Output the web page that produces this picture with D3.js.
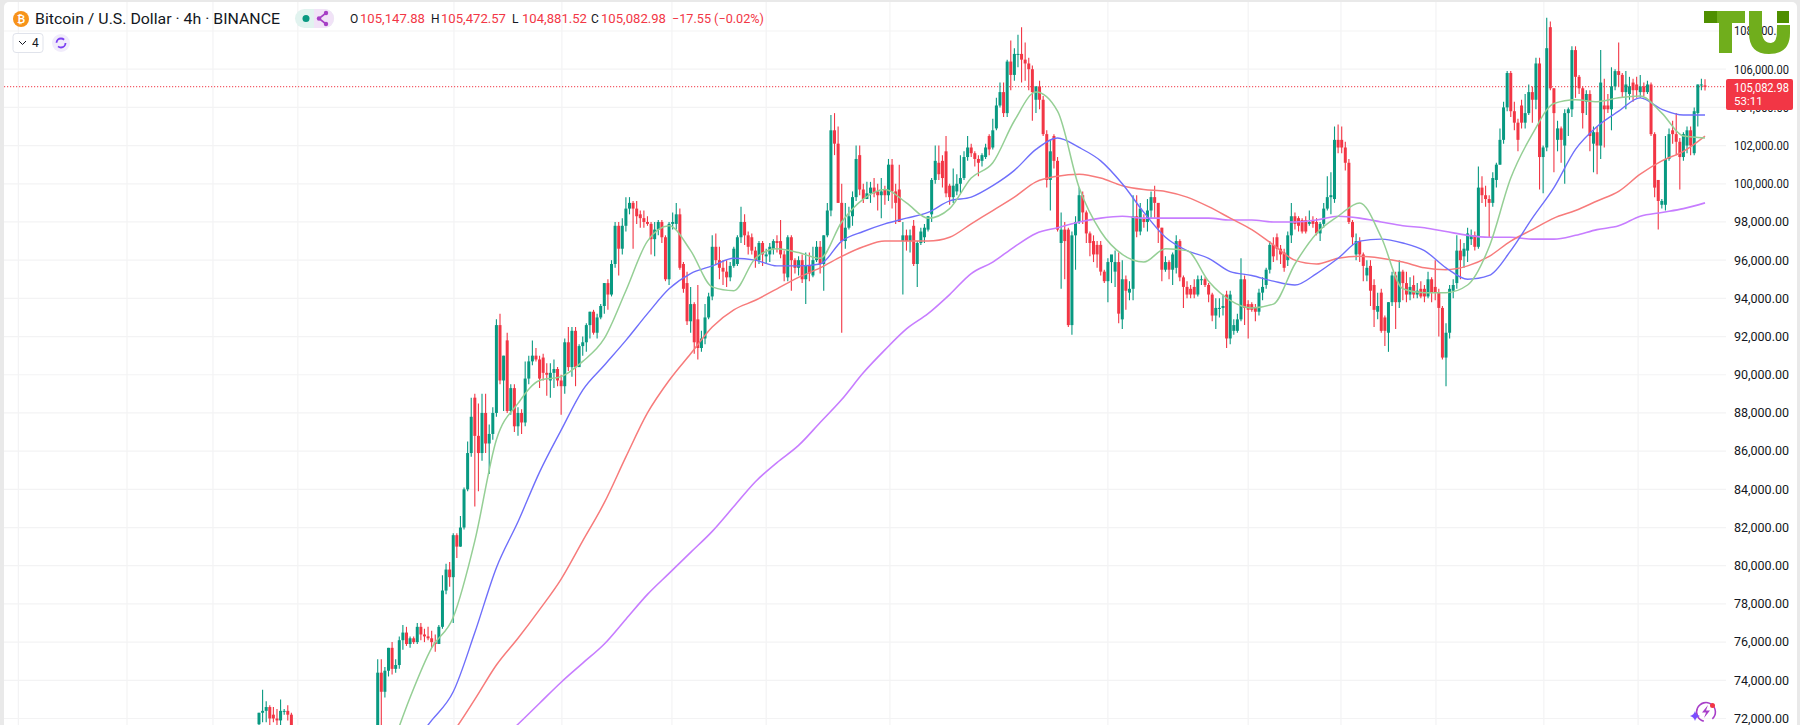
<!DOCTYPE html>
<html>
<head>
<meta charset="utf-8">
<script src="https://cdn.jsdelivr.net/npm/d3@7/dist/d3.min.js"></script>
<style>
  html, body { margin: 0; padding: 0; background: #e9e9e9; }
  svg { display: block; font-family: Roboto, sans-serif; }
</style>
</head>
<body>
<script>
// prices are in thousands of USD
// candles 10..32 sit below the 72,000 edge so they are not in the lists
const hiddenFrom = 10;
const hiddenCount = 23;
const lastCandle = 402;

const candleOpen = [
71.7,72.3,72.4,72.6,72.2,72.0,71.9,72.4,72.4,72.2,
71.0,74.4,73.4,74.5,75.7,74.6,74.8,76.1,76.5,75.9,
76.2,76.0,76.8,76.4,76.3,76.2,76.0,75.9,76.8,78.7,
79.8,79.4,81.6,81.0,82.0,84.0,85.9,88.8,86.8,85.9,
88.0,86.4,86.9,88.0,92.6,89.7,91.8,88.1,89.3,87.3,
88.0,87.5,89.8,90.7,91.0,90.8,90.9,90.1,89.7,90.1,
90.3,89.7,89.4,91.7,90.4,92.3,90.4,91.5,91.7,92.6,
93.3,92.2,93.0,93.6,94.8,94.2,95.8,97.8,96.6,97.8,
98.7,99.0,98.7,98.4,98.2,98.0,97.9,97.1,97.6,98.0,
97.2,95.0,97.9,97.9,98.4,95.8,94.8,92.8,93.7,92.9,
91.4,91.9,93.0,94.1,96.7,96.0,95.6,95.4,95.1,95.7,
95.8,97.2,98.0,97.3,97.2,96.5,96.0,96.9,96.2,96.3,
96.6,97.0,97.0,96.3,95.1,97.2,96.0,95.6,96.0,95.0,
95.7,95.2,96.0,96.7,95.8,97.3,98.6,102.8,102.1,99.0,
97.0,97.7,98.3,99.3,101.5,99.7,99.2,99.5,99.8,99.6,
99.4,99.7,99.4,101.0,99.6,99.7,97.0,97.3,97.0,97.8,
95.8,96.9,97.2,97.6,98.4,100.2,101.1,101.2,101.7,99.9,
99.3,99.6,100.0,100.3,101.4,101.9,101.6,101.3,101.2,101.4,
102.5,101.9,102.9,104.1,104.8,103.7,106.4,105.7,106.8,106.8,
106.5,106.3,106.0,104.4,105.1,104.4,102.6,100.2,102.5,101.2,
96.9,97.6,97.6,92.6,97.3,98.0,99.4,98.5,97.4,97.0,
96.8,96.8,95.4,94.9,95.9,95.4,95.9,92.9,95.0,94.3,
94.5,98.3,97.5,98.2,98.0,98.6,99.3,99.0,97.7,95.5,
95.9,95.5,95.6,97.0,95.1,94.6,94.5,94.6,94.2,95.0,
95.0,94.7,94.2,93.1,93.5,93.5,94.2,91.9,92.3,92.3,
92.9,95.0,93.7,93.7,93.5,93.3,94.3,94.7,95.5,96.8,
97.2,96.6,96.4,96.0,97.3,98.3,98.2,98.1,98.1,97.9,
98.1,98.0,97.4,97.9,98.7,99.3,99.2,102.3,102.3,101.9,
101.1,98.0,96.3,97.0,96.3,95.2,95.7,94.7,93.3,94.3,
93.0,92.2,93.8,95.2,93.8,95.4,94.8,94.2,94.7,94.2,
94.5,94.5,94.1,95.0,94.6,94.3,93.5,90.9,92.2,94.4,
94.8,96.5,96.2,96.5,97.1,97.3,96.7,99.8,99.4,99.2,
99.0,100.2,101.0,102.3,104.0,105.8,103.8,103.2,104.1,103.2,
103.7,104.8,104.4,106.3,101.4,101.9,108.2,105.0,102.3,102.9,
102.0,103.7,103.9,107.0,105.6,105.0,104.3,104.7,102.1,102.7,
102.0,104.1,104.1,103.9,105.1,105.9,105.7,104.8,104.7,105.3,
105.2,104.8,105.1,104.8,105.2,102.6,100.2,98.9,98.9,101.3,
102.8,102.6,102.2,101.4,102.0,102.8,101.6,103.7,105.2,105.15
];

const candleHigh = [
72.3,73.5,72.9,72.7,72.6,72.5,73.0,72.5,72.7,72.3,
75.1,75.1,74.7,75.7,76.0,75.1,76.3,76.9,76.8,76.3,
76.3,77.0,77.0,76.7,76.8,76.6,76.4,76.9,79.5,80.1,
80.2,81.7,81.7,82.6,84.1,86.5,88.8,89.0,88.5,89.0,
89.0,87.4,88.3,92.9,93.2,91.0,92.2,89.5,89.5,88.3,
88.2,90.7,91.0,91.8,91.4,91.0,91.1,90.6,90.6,90.8,
90.4,90.0,91.9,92.5,92.5,92.5,91.6,92.0,92.7,93.3,
93.4,93.2,93.7,94.8,95.0,96.0,98.0,98.0,98.2,99.3,
99.3,99.1,99.1,98.6,98.6,98.3,98.0,98.0,98.1,98.1,
97.3,98.0,98.5,99.0,98.7,95.9,95.4,94.6,93.8,94.7,
92.3,93.7,94.3,97.3,97.4,96.7,96.0,96.0,95.9,96.7,
97.3,98.8,98.4,97.5,97.4,96.7,97.0,97.0,96.6,96.9,
97.1,97.3,98.1,96.5,97.3,97.3,96.1,96.2,96.3,96.4,
96.4,96.7,97.0,97.0,97.3,99.0,103.6,103.7,103.0,100.0,
99.0,98.8,99.6,102.0,102.0,100.0,100.1,100.1,100.3,100.0,
100.3,99.9,101.3,101.3,100.0,101.0,98.0,97.6,97.6,98.1,
97.0,97.7,97.9,98.3,100.3,102.0,102.0,101.5,102.5,100.0,
100.8,100.5,101.5,101.7,102.5,102.1,101.7,101.5,101.6,102.1,
102.6,103.4,104.5,105.3,105.3,106.5,107.5,107.1,107.8,108.2,
107.4,106.6,106.2,105.1,105.4,104.6,102.8,102.3,102.6,101.4,
98.5,98.0,97.7,97.5,98.3,99.8,99.6,98.6,97.5,97.3,
97.0,97.0,95.5,96.1,96.2,96.5,96.4,96.0,95.2,94.9,
99.4,99.4,99.0,98.4,99.2,99.6,99.9,99.0,97.7,96.2,
96.0,96.4,97.3,97.1,95.2,94.9,94.7,95.0,95.2,95.2,
95.1,94.8,94.3,94.0,94.0,94.2,94.4,94.4,92.9,93.2,
96.1,95.2,93.9,93.8,93.7,94.5,95.1,95.6,97.0,97.2,
97.4,96.8,96.6,97.5,99.0,98.5,98.3,98.2,98.3,98.6,
98.3,98.2,98.0,99.0,100.4,100.6,103.0,103.1,103.0,102.2,
101.3,98.1,97.4,97.2,96.4,96.0,96.0,95.0,94.3,94.5,
93.1,93.8,95.4,95.4,96.0,95.5,95.4,95.1,95.2,94.8,
94.9,94.7,95.4,95.1,96.0,94.5,93.6,92.7,94.7,95.0,
97.3,97.1,96.9,97.7,97.6,97.5,100.9,100.4,99.9,99.4,
100.6,101.1,102.9,104.3,105.9,105.9,104.3,103.4,104.4,104.7,
105.2,105.1,106.6,106.6,102.0,108.7,108.5,105.0,103.3,103.0,
103.9,104.0,107.2,107.2,105.7,105.1,104.9,104.9,103.0,103.0,
107.0,105.5,104.7,106.1,106.0,107.4,105.8,105.9,105.6,105.5,
105.6,105.7,105.3,105.4,105.3,102.7,100.2,99.2,102.5,102.9,
103.3,103.7,102.4,102.7,103.0,103.0,104.0,105.2,105.5,105.47
];

const candleLow = [
71.5,71.8,71.8,71.6,71.8,71.6,71.6,72.2,71.9,71.2,
70.9,71.5,73.1,74.2,74.3,74.4,74.6,75.6,75.8,75.7,
75.9,75.9,76.1,76.0,76.1,75.7,75.5,75.9,76.7,78.5,
78.9,77.0,80.4,81.0,81.9,83.9,85.7,83.1,83.9,85.5,
85.9,84.8,86.6,87.8,89.5,88.1,88.0,87.9,87.0,86.8,
86.9,87.3,89.5,90.5,90.7,89.3,89.7,88.9,88.8,89.3,
89.4,87.9,89.0,90.2,89.9,89.4,90.4,91.0,91.2,91.9,
92.1,91.9,92.9,93.2,93.4,94.1,95.6,95.2,96.3,97.5,
98.4,96.6,97.9,97.7,97.7,97.8,96.3,96.2,97.3,96.9,
94.9,94.7,97.6,97.6,95.5,94.3,92.6,92.2,91.1,90.8,
91.2,91.6,92.9,93.9,95.8,95.0,94.7,94.6,94.9,95.6,
95.7,96.9,96.8,96.3,96.3,95.6,95.8,95.7,95.8,95.9,
96.3,96.4,96.1,94.9,94.9,94.4,95.3,95.2,94.8,93.7,
94.9,95.1,95.9,95.3,94.4,97.2,98.3,101.5,99.0,92.2,
96.6,97.6,97.8,99.1,99.4,99.0,99.2,99.0,99.3,98.6,
98.2,98.9,99.1,98.7,97.9,98.0,94.2,96.5,96.4,95.7,
94.6,96.8,96.9,97.5,98.0,100.0,100.2,99.8,99.3,98.9,
99.0,99.4,99.5,100.2,101.2,101.4,100.9,100.4,100.9,101.3,
101.5,101.8,102.8,104.0,103.5,103.5,104.9,105.4,106.1,105.3,
105.4,104.9,103.3,103.7,103.9,102.5,99.8,98.6,100.8,97.5,
94.5,95.0,92.5,92.1,95.5,97.9,97.9,96.9,96.2,95.9,
95.6,95.2,94.8,93.8,94.8,94.6,92.7,92.4,93.4,93.9,
93.9,97.2,97.3,97.7,97.5,98.2,98.2,96.9,94.9,95.4,
95.0,94.7,95.3,94.9,93.5,94.0,94.0,94.0,94.1,94.7,
94.6,93.8,92.8,92.4,93.0,93.1,91.4,91.6,92.1,92.2,
92.8,92.6,91.9,93.3,92.8,93.1,93.9,94.5,95.3,95.9,
96.0,95.8,95.4,95.7,96.9,97.6,97.5,97.4,97.4,97.8,
97.7,97.3,97.0,97.7,98.6,98.4,99.0,101.6,101.6,100.7,
97.9,96.8,96.0,95.9,94.9,94.9,93.6,92.5,92.9,92.2,
91.5,91.2,93.6,92.4,93.5,93.9,93.8,93.9,94.0,94.0,
94.0,93.8,94.0,93.8,93.9,92.0,90.8,89.4,91.9,94.0,
94.5,95.0,95.6,95.9,96.8,96.5,96.6,99.0,98.8,97.2,
98.8,99.8,101.0,102.1,103.8,103.5,102.8,101.7,102.9,102.9,
103.6,103.2,103.9,99.7,99.5,101.7,104.9,100.6,101.7,101.1,
100.0,102.5,103.5,104.5,104.7,102.9,103.6,101.7,100.6,100.5,
101.3,101.9,103.7,102.8,104.9,105.1,104.5,103.9,104.4,104.3,
104.5,104.5,104.6,104.7,102.5,99.3,97.6,98.7,98.6,101.2,
102.1,101.5,99.7,101.2,101.6,101.5,101.5,103.0,104.9,104.88
];

const candleClose = [
72.3,72.4,72.6,72.0,72.0,71.9,72.4,72.4,72.2,71.6,
74.4,73.4,74.5,75.7,74.6,74.8,76.1,76.5,75.9,76.2,
76.0,76.8,76.4,76.3,76.2,76.0,75.9,76.8,78.7,79.8,
79.4,81.6,81.0,82.0,84.0,85.9,87.8,86.8,85.9,88.0,
86.4,86.9,88.0,92.6,89.7,91.0,88.1,89.3,87.3,88.0,
87.5,89.8,90.7,91.0,90.8,89.8,90.1,90.0,90.1,90.3,
89.7,89.4,91.7,90.4,92.3,90.4,91.5,91.7,92.6,93.3,
92.2,93.0,93.6,94.8,94.2,95.8,97.8,96.6,97.8,98.7,
99.0,98.7,98.3,98.2,98.0,97.9,97.1,97.6,98.0,97.2,
95.0,97.9,98.0,98.4,95.6,94.5,92.8,93.7,91.7,91.4,
91.9,93.0,94.1,96.7,96.0,95.6,95.4,95.1,95.7,96.6,
97.2,98.0,97.3,96.7,96.5,96.0,96.9,96.3,96.3,96.7,
97.0,96.9,96.3,95.3,97.2,96.0,95.6,96.0,95.0,95.7,
95.3,96.0,96.7,95.8,97.3,98.6,102.8,102.1,99.0,97.0,
97.7,98.3,99.3,101.3,99.7,99.2,99.5,99.8,99.5,99.4,
99.6,99.4,101.0,99.6,99.0,98.0,97.3,97.0,97.3,95.8,
96.9,97.5,97.7,98.3,100.2,101.2,100.5,100.3,99.5,99.3,
99.9,100.0,100.3,101.4,101.9,101.6,101.3,101.1,101.5,101.9,
101.8,102.8,104.1,104.8,103.7,106.4,105.7,106.8,106.8,106.5,
106.3,106.0,104.8,105.1,104.4,102.6,100.2,101.7,101.2,97.6,
97.6,97.0,92.6,97.3,98.0,99.4,98.5,97.4,96.9,96.3,
96.3,95.4,94.9,95.9,96.3,95.9,93.2,95.0,94.4,94.5,
98.3,97.5,98.7,98.0,98.6,99.3,99.0,97.7,95.5,95.9,
95.5,96.3,97.0,95.1,94.6,94.2,94.2,94.2,95.0,95.0,
94.7,94.2,93.1,93.5,93.5,93.6,91.9,94.2,92.6,92.9,
95.0,93.5,93.4,93.4,93.3,94.3,94.6,95.5,96.8,96.2,
96.6,96.3,95.6,97.3,98.3,97.9,97.8,97.5,97.5,98.0,
97.9,97.4,97.9,98.7,99.3,99.4,102.3,101.9,101.9,101.1,
98.0,97.2,97.0,96.3,95.7,95.6,94.4,93.4,93.6,92.3,
92.3,93.8,95.2,93.8,95.4,94.8,94.2,94.6,94.2,94.4,
94.1,94.1,95.0,94.3,94.3,93.5,90.9,92.2,94.5,94.7,
96.5,96.0,96.6,97.4,97.3,96.7,99.8,99.4,99.2,99.0,
100.3,101.0,102.3,104.0,105.8,103.8,103.2,102.3,103.2,103.7,
104.8,104.4,106.3,101.4,101.9,107.1,105.0,103.7,102.9,102.3,
103.7,103.9,107.0,105.6,105.0,103.7,104.7,102.5,102.7,102.0,
105.3,103.9,103.9,105.1,105.9,105.7,104.8,105.2,105.1,104.9,
104.9,105.1,104.8,105.2,102.6,99.8,99.1,99.1,101.3,102.6,
102.6,102.2,101.4,102.6,102.8,102.0,103.8,105.2,105.2,105.08
];

// moving averages, one reading every 6 candles; each list starts at its own sample
const maStep = 6;
const greenStart = 6;
const greenMA = [70.0,73.1,75.7,77.3,81.3,86.6,88.5,89.7,89.9,90.7,91.9,94.4,97.0,97.8,96.5,94.6,94.4,96.1,96.6,96.4,96.1,98.0,99.2,99.7,99.0,98.2,98.7,100.3,101.1,103.3,104.8,103.8,99.8,97.5,96.3,95.9,96.6,96.5,94.9,93.9,93.5,93.7,95.8,97.4,98.3,99.0,97.2,94.5,94.3,94.3,94.7,96.7,100.3,102.6,104.2,104.4,104.3,104.5,104.6,103.7,102.5,102.4];
const blueStart = 7;
const blueMA = [70.5,71.9,73.4,76.5,79.9,82.3,84.9,87.1,89.2,90.5,91.8,93.2,94.5,95.3,95.7,96.1,96.0,95.7,95.7,95.8,97.0,97.5,97.9,98.2,98.5,99.1,99.3,99.9,100.7,101.8,102.4,101.9,101.2,100.0,98.5,97.2,96.5,96.1,95.4,95.2,94.9,94.7,95.3,96.1,97.0,97.1,96.9,96.5,95.6,95.0,95.2,96.5,98.2,99.8,101.8,103.0,103.8,104.5,103.9,103.6,103.6];
const redStart = 8;
const redMA = [70.0,71.3,73.0,74.8,76.2,77.7,79.3,81.3,83.3,85.7,88.0,89.7,91.1,92.5,93.4,93.9,94.5,95.1,95.6,96.2,96.7,97.0,97.0,97.0,97.2,97.9,98.6,99.3,100.1,100.4,100.5,100.3,99.9,99.7,99.6,99.3,98.8,98.2,97.6,96.8,96.0,95.8,96.1,96.2,96.1,95.9,95.6,95.5,95.7,96.2,97.0,97.6,98.2,98.6,99.1,99.6,100.5,101.2,101.7,102.5];
const purpleStart = 10;
const purpleMA = [69.8,70.7,71.7,72.8,73.9,74.9,75.9,77.2,78.5,79.6,80.7,81.8,83.1,84.4,85.4,86.3,87.5,88.7,90.1,91.3,92.4,93.2,94.2,95.3,95.9,96.7,97.4,97.7,98.0,98.2,98.3,98.2,98.2,98.2,98.2,98.1,98.1,98.0,98.0,98.1,98.3,98.2,98.0,97.8,97.7,97.5,97.3,97.2,97.2,97.1,97.1,97.3,97.6,97.8,98.3,98.5,98.7,99.0];

const priceTicks = [72,74,76,78,80,82,84,86,88,90,92,94,96,98,100,102,104,106,108];
// time gridlines, in candle positions
const timeGrid = [-66.9,-36.7,-12.8,10.8,54.2,84.2,114.8,141,175.4,236,275,300.8,327.2,357.2,383.4];

const legendTitle = 'Bitcoin / U.S. Dollar · 4h · BINANCE';
const legendOHLC = [['O','105,147.88'],['H','105,472.57'],['L','104,881.52'],['C','105,082.98']];
const legendChange = '−17.55 (−0.02%)';
const lastPrice = 105.08298;
const lastPriceLabel = '105,082.98';
const countdown = '53:11';

const width = 1800, height = 725;
const plotLeft = 4, plotRight = 1726;
const upColor = '#089981', downColor = '#f23645';
const textColor = '#131722';

if (candleOpen.length !== candleHigh.length || candleOpen.length !== candleLow.length || candleOpen.length !== candleClose.length)
    throw new Error('candle lists differ');

const x = d3.scaleLinear().domain([0, lastCandle]).range([259, 1705]);
const y = d3.scaleLinear().domain([72, 108]).range([718.5, 31]);

const svg = d3.select('body').append('svg').attr('width', width).attr('height', height);

svg.append('rect').attr('x', 4).attr('y', 2).attr('width', 1793).attr('height', 730).attr('rx', 5).attr('fill', '#fff');
svg.append('clipPath').attr('id', 'plot').append('rect')
    .attr('x', plotLeft).attr('y', 2).attr('width', plotRight - plotLeft).attr('height', 723);

// grid
svg.append('g').selectAll('line').data(timeGrid).join('line')
    .attr('x1', d => x(d)).attr('x2', d => x(d)).attr('y1', 2).attr('y2', height)
    .attr('stroke', '#f3f3f4').attr('stroke-width', 1.2);
svg.append('g').selectAll('line').data(priceTicks).join('line')
    .attr('x1', plotLeft).attr('x2', plotRight).attr('y1', d => y(d)).attr('y2', d => y(d))
    .attr('stroke', '#f3f3f4').attr('stroke-width', 1.2);

// last price line
svg.append('line')
    .attr('x1', plotLeft).attr('x2', plotRight).attr('y1', y(lastPrice)).attr('y2', y(lastPrice))
    .attr('stroke', downColor).attr('stroke-width', 1).attr('stroke-dasharray', '1.2 1.8');

const candles = candleOpen.map((o, i) => ({
    pos: i < hiddenFrom ? i : i + hiddenCount,
    o, h: candleHigh[i], l: candleLow[i], c: candleClose[i]
}));
const colorOf = d => d.c >= d.o ? upColor : downColor;

const plot = svg.append('g').attr('clip-path', 'url(#plot)');
plot.append('g').selectAll('line').data(candles).join('line')
    .attr('x1', d => x(d.pos)).attr('x2', d => x(d.pos))
    .attr('y1', d => y(d.h)).attr('y2', d => y(d.l))
    .attr('stroke', colorOf).attr('stroke-width', 1.1);
plot.append('g').selectAll('rect').data(candles).join('rect')
    .attr('x', d => x(d.pos) - 1.5).attr('width', 3)
    .attr('y', d => y(Math.max(d.o, d.c)))
    .attr('height', d => Math.max(1, Math.abs(y(d.o) - y(d.c))))
    .attr('fill', colorOf);

const maLine = start => d3.line()
    .x((d, i) => x((start + i) * maStep))
    .y(d => y(d))
    .curve(d3.curveMonotoneX);

plot.append('path').attr('d', maLine(purpleStart)(purpleMA)).attr('fill', 'none').attr('stroke', '#c77dff').attr('stroke-width', 1.6);
plot.append('path').attr('d', maLine(redStart)(redMA)).attr('fill', 'none').attr('stroke', '#f77b7b').attr('stroke-width', 1.5);
plot.append('path').attr('d', maLine(blueStart)(blueMA)).attr('fill', 'none').attr('stroke', '#6f6ffb').attr('stroke-width', 1.4);
plot.append('path').attr('d', maLine(greenStart)(greenMA)).attr('fill', 'none').attr('stroke', '#95cf95').attr('stroke-width', 1.5);

// price axis
const axis = svg.append('g').attr('transform', 'translate(1789,0)')
    .call(d3.axisRight(y).tickValues(priceTicks).tickSize(0).tickPadding(0)
        .tickFormat(d => d3.format(',.2f')(d * 1000)));
axis.select('.domain').remove();
axis.selectAll('text')
    .attr('text-anchor', 'end')
    .attr('textLength', 55).attr('lengthAdjust', 'spacingAndGlyphs')
    .attr('font-family', 'Roboto, sans-serif').attr('font-size', 12).attr('fill', textColor);

// last price tag
svg.append('rect').attr('x', 1726).attr('y', 79).attr('width', 67).attr('height', 31).attr('rx', 2).attr('fill', downColor);
svg.append('text').attr('x', 1734).attr('y', 91.5).attr('fill', '#fff').attr('font-size', 12)
    .attr('textLength', 55).attr('lengthAdjust', 'spacingAndGlyphs').text(lastPriceLabel);
svg.append('text').attr('x', 1734).attr('y', 105).attr('fill', '#fff').attr('font-size', 11.5).text(countdown);

// legend
const legend = svg.append('g');
legend.append('circle').attr('cx', 21).attr('cy', 19).attr('r', 8).attr('fill', '#f7931a');
legend.append('text').attr('x', 21).attr('y', 22.5).attr('text-anchor', 'middle').attr('fill', '#fff')
    .attr('font-size', 10).attr('font-weight', 700).text('₿');
legend.append('text').attr('x', 35).attr('y', 24).attr('font-size', 14).attr('fill', textColor)
    .attr('textLength', 245).attr('lengthAdjust', 'spacingAndGlyphs').text(legendTitle);

legend.append('rect').attr('x', 295).attr('y', 9).attr('width', 39).attr('height', 19).attr('rx', 9.5).attr('fill', '#e1f3ef');
legend.append('path').attr('d', 'M314,9 h10.5 a9.5,9.5 0 0 1 0,19 h-10.5 z').attr('fill', '#f1e2f7');
legend.append('circle').attr('cx', 306).attr('cy', 18.5).attr('r', 3.5).attr('fill', upColor);
legend.append('path').attr('d', 'M326,13 L319,18.5 L326,24').attr('fill', 'none').attr('stroke', '#a63ec5').attr('stroke-width', 1.6);
legend.selectAll('.node').data([[326,13],[319,18.5],[326,24]]).join('circle').attr('class', 'node')
    .attr('cx', d => d[0]).attr('cy', d => d[1]).attr('r', 2.2).attr('fill', '#a63ec5');

const ohlcX = [350, 431, 512, 591];
legendOHLC.forEach((d, i) => {
    legend.append('text').attr('x', ohlcX[i]).attr('y', 23).attr('font-size', 12).attr('fill', textColor).text(d[0]);
    legend.append('text').attr('x', ohlcX[i] + 10).attr('y', 23).attr('font-size', 12).attr('fill', downColor)
        .attr('textLength', 65).attr('lengthAdjust', 'spacingAndGlyphs').text(d[1]);
});
legend.append('text').attr('x', 672).attr('y', 23).attr('font-size', 12).attr('fill', downColor)
    .attr('textLength', 92).attr('lengthAdjust', 'spacingAndGlyphs').text(legendChange);

// collapsed indicators button
legend.append('rect').attr('x', 13).attr('y', 33.5).attr('width', 30).attr('height', 19).attr('rx', 3)
    .attr('fill', '#fff').attr('stroke', '#e0e3eb');
legend.append('path').attr('d', 'M19,41 l3.5,3.5 l3.5,-3.5').attr('fill', 'none').attr('stroke', textColor).attr('stroke-width', 1);
legend.append('text').attr('x', 32).attr('y', 47).attr('font-size', 12).attr('fill', textColor).text('4');
legend.append('circle').attr('cx', 61).attr('cy', 43).attr('r', 9).attr('fill', '#f1ecfb');
legend.append('circle').attr('cx', 61).attr('cy', 43).attr('r', 4.5).attr('fill', 'none')
    .attr('stroke', '#7b3ff2').attr('stroke-width', 1.8).attr('stroke-dasharray', '10 4');

// logo over the axis
const logo = svg.append('g');
logo.append('rect').attr('x', 1704).attr('y', 11).attr('width', 13).attr('height', 12).attr('fill', '#4f8f00');
logo.append('path').attr('d', 'M1717,11 H1745 V23 H1732 V53 H1719 V23 H1717 Z').attr('fill', '#70ae1c');
logo.append('path').attr('d', 'M1749,11 H1762 V31 Q1762,43 1771,43 Q1777,43 1777,31 V25 H1790 V33 Q1790,54 1769,54 Q1749,54 1749,33 Z').attr('fill', '#70ae1c');
logo.append('rect').attr('x', 1777).attr('y', 11).attr('width', 12).attr('height', 12).attr('fill', '#4f8f00');

// assistant icon, bottom right
const icon = svg.append('g');
icon.append('path').attr('d', d3.arc()({ innerRadius: 8.6, outerRadius: 10.2, startAngle: -2.9, endAngle: 2.4 }))
    .attr('transform', 'translate(1706,712)').attr('fill', '#a83fc9');
icon.append('path').attr('d', 'M1708,705 L1702,712.5 H1706 L1704,718 L1710,710.5 H1706 Z').attr('fill', '#a83fc9');
icon.append('path').attr('d', 'M1695,711 Q1696,715 1700,716 Q1696,717 1695,721 Q1694,717 1690,716 Q1694,715 1695,711 Z').attr('fill', '#7a4dff');
icon.append('circle').attr('cx', 1712.5).attr('cy', 705.5).attr('r', 2.5).attr('fill', downColor);
</script>
</body>
</html>
